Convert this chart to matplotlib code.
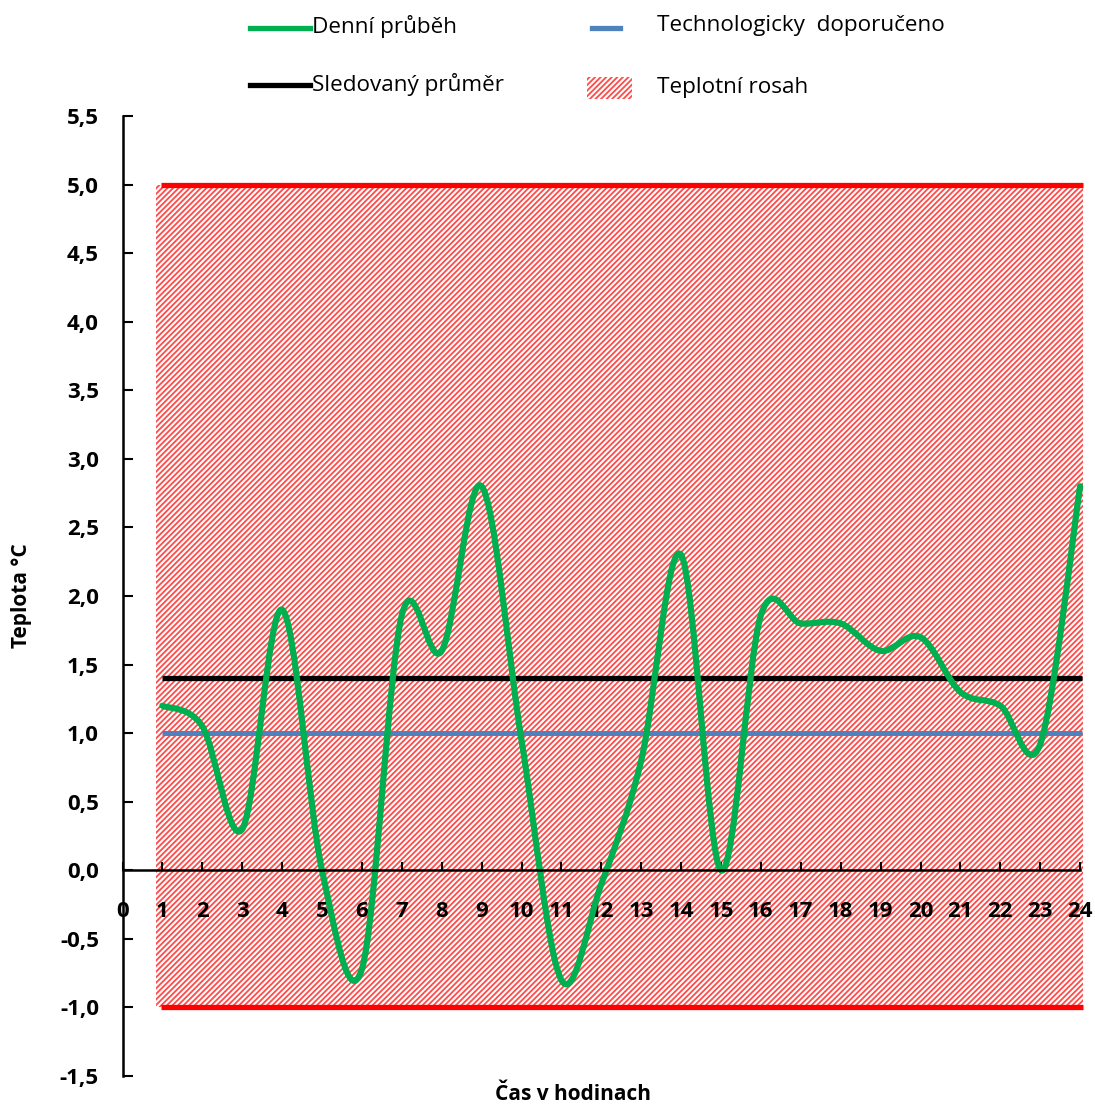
import numpy as np
import matplotlib.pyplot as plt
from matplotlib.path import Path
from matplotlib.patches import PathPatch, Rectangle
from matplotlib.lines import Line2D

# hourly temperature readings (hour 1..24)
hours = list(range(1, 25))
temps = [1.2, 1.05, 0.3, 1.9, 0.0, -0.72, 1.86, 1.6, 2.8, 0.95, -0.8, -0.1,
         0.8, 2.3, 0.0, 1.86, 1.8, 1.8, 1.6, 1.7, 1.3, 1.2, 0.92, 2.8]

avg_level = 1.4          # Sledovaný průměr
recommended = 1.0        # Technologicky doporučeno
range_low, range_high = -1.0, 5.0   # Teplotní rosah

x_ticks = list(range(0, 25))
y_ticks = [5.5, 5.0, 4.5, 4.0, 3.5, 3.0, 2.5, 2.0, 1.5, 1.0, 0.5, 0.0, -0.5, -1.0, -1.5]

GREEN = "#00b050"
BLUE = "#4f81bd"
RED = "#ff0000"
HATCH = "#ff4a4a"

plt.rcParams['font.family'] = ['Open Sans', 'DejaVu Sans']
plt.rcParams['hatch.linewidth'] = 1.3


def smooth_path(xs, ys):
    """Catmull-Rom style bezier through the points (like Excel's smoothed line)."""
    pts = np.column_stack([xs, ys]).astype(float)
    n = len(pts)
    verts = [pts[0]]
    codes = [Path.MOVETO]
    for i in range(n - 1):
        p0 = pts[max(i - 1, 0)]
        p1 = pts[i]
        p2 = pts[i + 1]
        p3 = pts[min(i + 2, n - 1)]
        c1 = p1 + (p2 - p0) / 6.0
        c2 = p2 - (p3 - p1) / 6.0
        verts += [c1, c2, p2]
        codes += [Path.CURVE4] * 3
    return Path(verts, codes)


fig = plt.figure(figsize=(10.95, 11.08), dpi=100)
ax = fig.add_axes([122.5 / 1095, 32 / 1108, 961.6 / 1095, 960 / 1108])
ax.set_xlim(0, 24.1)
ax.set_ylim(-1.5, 5.5)

# hatched temperature band
ax.fill_between([0.85, 24.08], range_low, range_high, facecolor="white",
                edgecolor=HATCH, hatch="//////", linewidth=0, zorder=1)
ax.plot([0.97, 24.08], [range_high, range_high], color=RED, lw=3.8,
        solid_capstyle="butt", zorder=2)
ax.plot([0.97, 24.08], [range_low, range_low], color=RED, lw=3.8,
        solid_capstyle="butt", zorder=2)

ax.plot([1, 24.05], [recommended, recommended], color=BLUE, lw=3.6,
        solid_capstyle="butt", zorder=3)
ax.plot([1, 24.05], [avg_level, avg_level], color="black", lw=3.8,
        solid_capstyle="butt", zorder=3)

ax.add_patch(PathPatch(smooth_path(hours, temps), fill=False, edgecolor=GREEN,
                       lw=4.5, capstyle="round", joinstyle="round", zorder=4))

# axes: y spine at x=0, x spine crossing at y=0
for side in ("top", "right"):
    ax.spines[side].set_visible(False)
ax.spines["bottom"].set_position(("data", 0))
ax.spines["bottom"].set_bounds(0, 24)
ax.spines["left"].set_linewidth(1.8)
ax.spines["bottom"].set_linewidth(1.8)
ax.spines["bottom"].set_zorder(5)

ax.set_xticks(x_ticks)
ax.set_xticklabels([str(v) for v in x_ticks])
ax.set_yticks(y_ticks)
ax.set_yticklabels([f"{v:.1f}".replace(".", ",") for v in y_ticks])
ax.tick_params(axis="x", direction="in", length=6, width=1.5, pad=22,
               labelsize=16)
ax.tick_params(axis="y", direction="in", length=7, width=1.5, pad=17,
               labelsize=16)
for lbl in ax.get_xticklabels() + ax.get_yticklabels():
    lbl.set_fontweight("bold")
    lbl.set_zorder(6)

fig.text(22 / 1095, 1 - 596 / 1108, "Teplota °C", rotation=90, ha="center",
         va="center", fontsize=15, fontweight="bold")
fig.text(573 / 1095, 1 - 1094 / 1108, "Čas v hodinach", ha="center",
         va="center", fontsize=15, fontweight="bold")


# legend across the top
def fx(px):
    return px / 1095


def fy(py):
    return 1 - py / 1108


fig.add_artist(Line2D([fx(250), fx(310)], [fy(28), fy(28)], color=GREEN, lw=3.8))
fig.add_artist(Line2D([fx(250), fx(310)], [fy(85), fy(85)], color="black", lw=3.8))
fig.add_artist(Line2D([fx(592), fx(620)], [fy(28), fy(28)], color=BLUE, lw=3.8))
fig.add_artist(Rectangle((fx(587), fy(99)), fx(632) - fx(587), fy(77) - fy(99),
                         transform=fig.transFigure, facecolor="white",
                         edgecolor=HATCH, hatch="//////", linewidth=0))

leg_kw = dict(fontsize=16.2, va="center", ha="left")
fig.text(fx(312), fy(27), "Denní průběh", **leg_kw)
fig.text(fx(312), fy(84), "Sledovaný průměr", **leg_kw)
fig.text(fx(657), fy(26), "Technologicky  doporučeno", **leg_kw)
fig.text(fx(657), fy(87), "Teplotní rosah", **leg_kw)

fig.savefig("out.png", dpi=100)
